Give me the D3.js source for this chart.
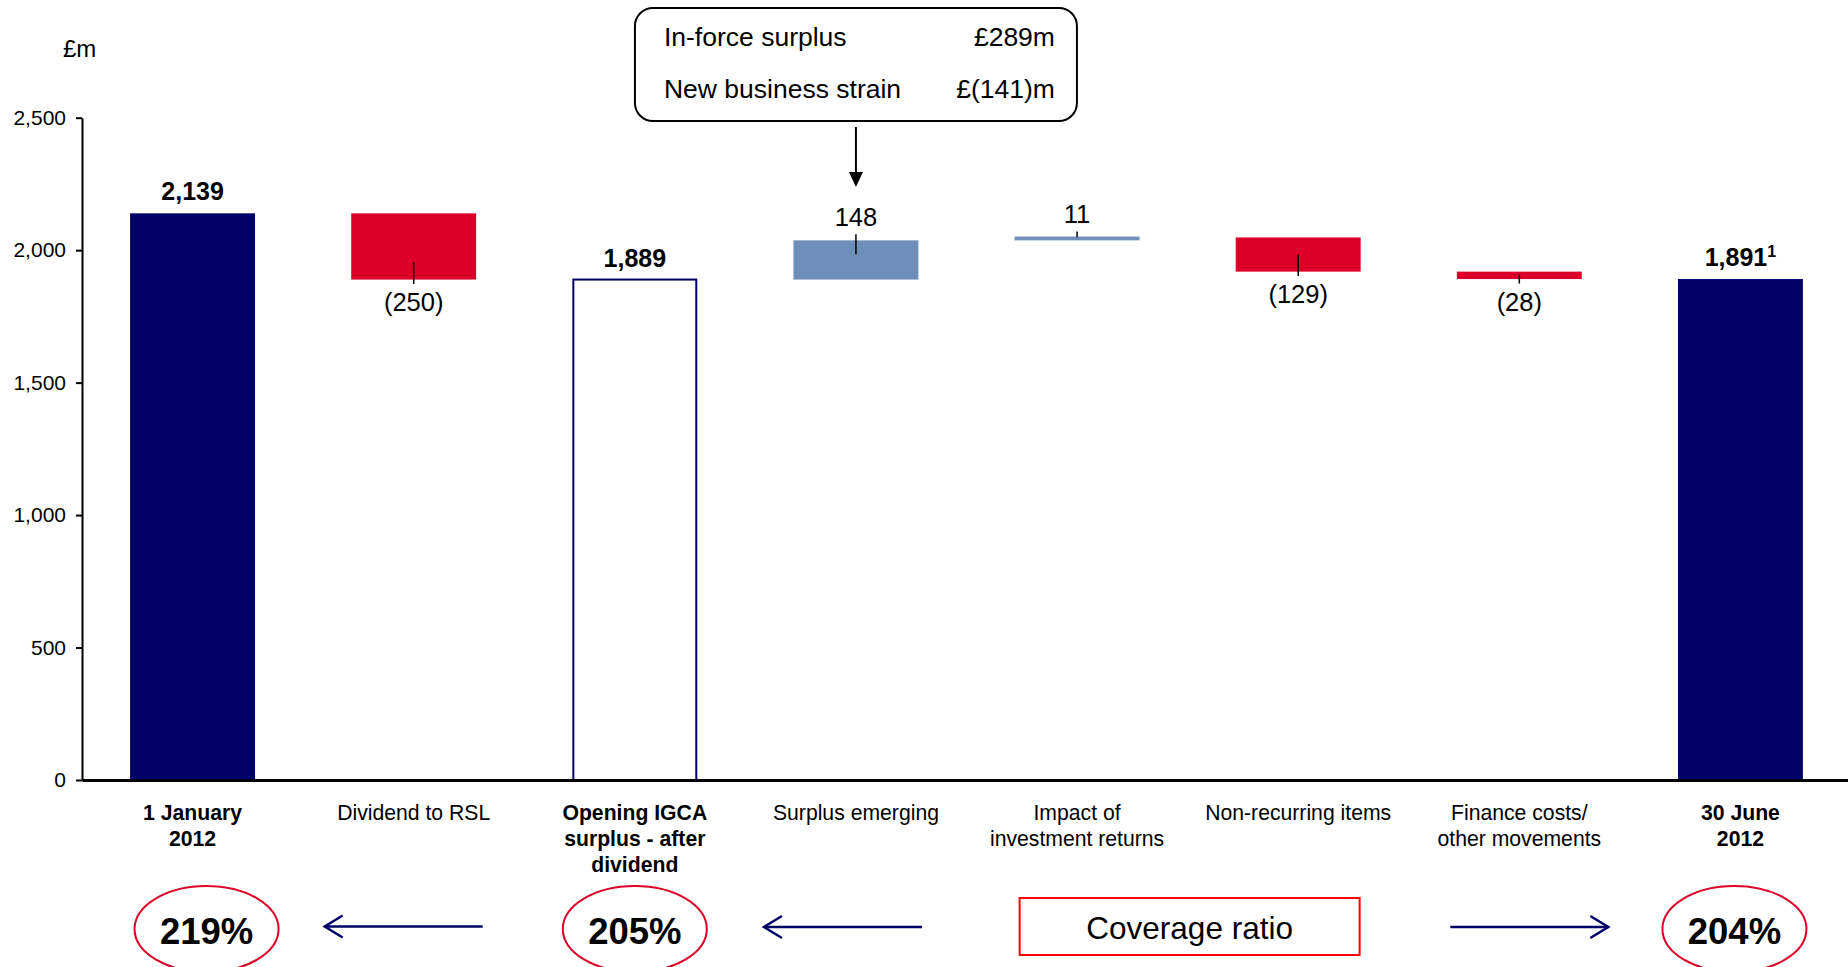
<!DOCTYPE html>
<html>
<head>
<meta charset="utf-8">
<script src="https://cdn.jsdelivr.net/npm/d3@7"></script>
<style>
  html, body { margin: 0; padding: 0; background: #ffffff; }
  svg { display: block; font-family: "Liberation Sans", Arial, sans-serif; }
</style>
</head>
<body>
<svg id="chart" width="1848" height="967"></svg>
<script>
// ---------- data ----------
const categories = [
  ["1 January", "2012"],
  ["Dividend to RSL"],
  ["Opening IGCA", "surplus - after", "dividend"],
  ["Surplus emerging"],
  ["Impact of", "investment returns"],
  ["Non-recurring items"],
  ["Finance costs/", "other movements"],
  ["30 June", "2012"]
];
const values = [2139, -250, 1889, 148, 11, -129, -28, 1891];
const kinds = ["total", "decrease", "subtotal", "increase", "increase", "decrease", "decrease", "total"];
const footnotes = ["", "", "", "", "", "", "", "1"];
const yTicks = [0, 500, 1000, 1500, 2000, 2500];
const unitLabel = "£m";
const calloutRows = [["In-force surplus", "£289m"], ["New business strain", "£(141)m"]];
const coverageIndex = [0, 2, 7];
const coverageRatios = ["219%", "205%", "204%"];
const coverageLabel = "Coverage ratio";

// ---------- setup ----------
const svg = d3.select("#chart");
const font = '"Liberation Sans", Arial, sans-serif';
const NAVY = "#000066", RED = "#dc0028", STEEL = "#6f8fba";

const keys = categories.map((c, i) => "c" + i);
const x = d3.scaleBand().domain(keys).range([82, 1851]).paddingInner(0.435).paddingOuter(0.2175);
const y = d3.scaleLinear().domain([0, 2500]).range([780, 117.7]);
const cx = i => x(keys[i]) + x.bandwidth() / 2;

// running waterfall
let run = 0;
const bars = values.map((v, i) => {
  let s, e;
  if (kinds[i] === "total" || kinds[i] === "subtotal") { s = 0; e = v; run = v; }
  else { s = run; e = run + v; run = e; }
  return { i, v, kind: kinds[i], lo: Math.min(s, e), hi: Math.max(s, e) };
});

// ---------- axes ----------
const yAxis = d3.axisLeft(y).tickValues(yTicks).tickFormat(d3.format(",")).tickSize(6).tickSizeOuter(0).tickPadding(10);
const gy = svg.append("g").attr("transform", "translate(82,0)").call(yAxis);
gy.select(".domain").attr("stroke", "#000").attr("stroke-width", 2);
gy.selectAll(".tick line").attr("stroke", "#000").attr("stroke-width", 2);
gy.selectAll(".tick text").attr("font-family", font).attr("font-size", 21).attr("fill", "#000");

svg.append("text").attr("x", 63).attr("y", 57).attr("font-size", 24).attr("fill", "#000").text(unitLabel);

// ---------- bars ----------
const fillOf = k => k === "total" ? NAVY : k === "subtotal" ? "#fff" : k === "increase" ? STEEL : RED;
svg.append("g").selectAll("rect").data(bars).join("rect")
  .attr("x", d => x(keys[d.i]) + (d.kind === "subtotal" ? 1 : 0))
  .attr("width", d => x.bandwidth() - (d.kind === "subtotal" ? 2 : 0))
  .attr("y", d => Math.min(y(d.hi), y(d.lo) - 3.8))
  .attr("height", d => Math.max(3.8, y(d.lo) - y(d.hi)))
  .attr("fill", d => fillOf(d.kind))
  .attr("stroke", d => d.kind === "subtotal" ? NAVY : "none")
  .attr("stroke-width", 2);

// x axis line
const xAxis = d3.axisBottom(x).tickSize(0).tickSizeOuter(0).tickFormat("");
const gx = svg.append("g").attr("transform", `translate(0,${y(0)})`).call(xAxis);
gx.select(".domain").attr("stroke", "#000").attr("stroke-width", 3);

// ---------- leader lines & value labels ----------
const fmtAbs = d3.format(",");
const labels = svg.append("g").attr("font-family", font).attr("fill", "#000").attr("text-anchor", "middle");
const leaders = svg.append("g").attr("stroke", "#000").attr("stroke-width", 1.5);
bars.forEach(d => {
  const top = y(d.hi), bot = y(d.lo), xc = cx(d.i);
  if (d.kind === "total" || d.kind === "subtotal") {
    const t = labels.append("text").attr("x", xc).attr("y", top - 13)
      .attr("font-size", 25).attr("font-weight", "bold").text(fmtAbs(d.v));
    if (footnotes[d.i]) {
      t.append("tspan").attr("font-size", 16).attr("dy", -9).text(footnotes[d.i]);
    }
  } else if (d.v > 0) {
    const l0 = top - 6, l1 = Math.min(top + 14, bot - 3);
    leaders.append("line").attr("x1", xc).attr("x2", xc).attr("y1", l0).attr("y2", l1);
    labels.append("text").attr("x", xc).attr("y", top - 14).attr("font-size", 25.5).text(fmtAbs(d.v));
  } else {
    const l1 = bot + 4.5, l0 = Math.max(top + 3, bot - 17);
    leaders.append("line").attr("x1", xc).attr("x2", xc).attr("y1", l0).attr("y2", l1);
    labels.append("text").attr("x", xc).attr("y", l1 + 27).attr("font-size", 25.5).text("(" + fmtAbs(-d.v) + ")");
  }
});

// ---------- category labels ----------
const boldCat = new Set(["total", "subtotal"]);
categories.forEach((lines, i) => {
  const t = svg.append("text").attr("x", cx(i)).attr("y", 820).attr("text-anchor", "middle")
    .attr("font-size", 21.2).attr("fill", "#000")
    .attr("font-weight", boldCat.has(kinds[i]) ? "bold" : "normal");
  lines.forEach((ln, j) => t.append("tspan").attr("x", cx(i)).attr("dy", j === 0 ? 0 : 26).text(ln));
});

// ---------- callout ----------
const cbX = cx(3) - 221, cbW = 442;
svg.append("rect").attr("x", cbX).attr("y", 8).attr("width", cbW).attr("height", 113)
  .attr("rx", 18).attr("ry", 18).attr("fill", "#fff").attr("stroke", "#000").attr("stroke-width", 2);
calloutRows.forEach((r, j) => {
  const by = 46 + j * 52;
  svg.append("text").attr("x", cbX + 29).attr("y", by).attr("font-size", 26.5).attr("fill", "#000").text(r[0]);
  svg.append("text").attr("x", cbX + cbW - 22).attr("y", by).attr("text-anchor", "end").attr("font-size", 26.5).attr("fill", "#000").text(r[1]);
});
svg.append("line").attr("x1", cx(3)).attr("x2", cx(3)).attr("y1", 127).attr("y2", 173).attr("stroke", "#000").attr("stroke-width", 2);
svg.append("path").attr("d", `M${cx(3) - 7},172 L${cx(3) + 7},172 L${cx(3)},187 Z`).attr("fill", "#000");

// ---------- coverage ratios ----------
const ratioOffsets = [14, 0, -6];
coverageIndex.forEach((ci, k) => {
  const ex = cx(ci) + ratioOffsets[k];
  svg.append("ellipse").attr("cx", ex).attr("cy", 929).attr("rx", 72).attr("ry", 43)
    .attr("fill", "#fff").attr("stroke", RED).attr("stroke-width", 2);
  svg.append("text").attr("x", ex).attr("y", 944).attr("text-anchor", "middle")
    .attr("font-size", 36.5).attr("font-weight", "bold").attr("fill", "#000").text(coverageRatios[k]);
});

// arrows
function arrow(x1, x2, yy) {
  const dir = Math.sign(x2 - x1);
  svg.append("line").attr("x1", x1).attr("x2", x2).attr("y1", yy).attr("y2", yy)
    .attr("stroke", NAVY).attr("stroke-width", 2.5);
  svg.append("path").attr("d", `M${x2 - dir * 18},${yy - 11} L${x2},${yy} L${x2 - dir * 18},${yy + 11}`)
    .attr("fill", "none").attr("stroke", NAVY).attr("stroke-width", 2.5);
}
arrow(cx(1) - 10 + 79, cx(1) - 10 - 79, 926.5);
arrow(cx(3) - 13 + 79, cx(3) - 13 - 79, 927);
arrow(cx(6) + 10 - 79, cx(6) + 10 + 79, 927);

// coverage label box
const boxC = (cx(4) + cx(5)) / 2 + 2;
svg.append("rect").attr("x", boxC - 170).attr("y", 898).attr("width", 340).attr("height", 57)
  .attr("fill", "#fff").attr("stroke", "#ff0000").attr("stroke-width", 2);
svg.append("text").attr("x", boxC).attr("y", 939).attr("text-anchor", "middle")
  .attr("font-size", 31.5).attr("fill", "#000").text(coverageLabel);
</script>
</body>
</html>
